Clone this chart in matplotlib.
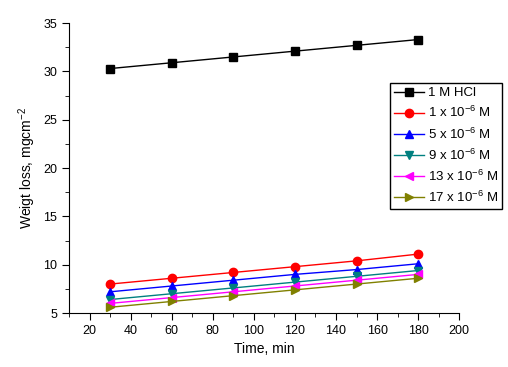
import matplotlib
matplotlib.use("Agg")
import matplotlib.pyplot as plt
from matplotlib.ticker import MultipleLocator

plt.rcParams['font.family'] = ['Liberation Sans', 'DejaVu Sans']
plt.rcParams['mathtext.fontset'] = 'custom'
plt.rcParams['mathtext.rm'] = 'Liberation Sans'
plt.rcParams['mathtext.it'] = 'Liberation Sans'
plt.rcParams['mathtext.default'] = 'regular'

time = [30, 60, 90, 120, 150, 180]
hcl = [30.3, 30.9, 31.5, 32.1, 32.7, 33.3]
c1 = [8.0, 8.6, 9.2, 9.8, 10.4, 11.1]
c5 = [7.2, 7.8, 8.4, 9.0, 9.5, 10.1]
c9 = [6.4, 7.0, 7.6, 8.2, 8.8, 9.4]
c13 = [6.0, 6.6, 7.2, 7.8, 8.4, 9.0]
c17 = [5.6, 6.2, 6.8, 7.4, 8.0, 8.6]

labels = ['1 M HCl', '1 x 10$^{-6}$ M', '5 x 10$^{-6}$ M', '9 x 10$^{-6}$ M',
          '13 x 10$^{-6}$ M', '17 x 10$^{-6}$ M']
series = [hcl, c1, c5, c9, c13, c17]
colors = ['black', 'red', 'blue', '#008080', 'magenta', '#808000']
markers = ['s', 'o', '^', 'v', '<', '>']

fig = plt.figure(figsize=(5.08, 3.67), dpi=100)
ax = fig.add_axes([0.136, 0.147, 0.768, 0.790])
for y, lab, c, m in zip(series, labels, colors, markers):
    ax.plot(time, y, color=c, marker=m, markersize=6, linewidth=1, label=lab)

ax.set_xlim(10, 200)
ax.set_ylim(5, 35)
ax.xaxis.set_major_locator(MultipleLocator(20))
ax.xaxis.set_minor_locator(MultipleLocator(10))
ax.yaxis.set_major_locator(MultipleLocator(5))
ax.yaxis.set_minor_locator(MultipleLocator(2.5))
ax.set_xticks(range(20, 201, 20))
ax.spines['top'].set_visible(False)
ax.spines['right'].set_visible(False)
ax.tick_params(which='major', direction='out', length=5, labelsize=9)
ax.tick_params(which='minor', direction='out', length=3)
ax.set_xlabel('Time, min', fontsize=10)
ax.set_ylabel('Weigt loss, mgcm$^{-2}$', fontsize=10)

leg = ax.legend(loc='upper left', bbox_to_anchor=(0.823, 0.793), fontsize=9.5,
                frameon=True, fancybox=False, edgecolor='black', framealpha=1,
                borderpad=0.3, labelspacing=0.45, handlelength=2.3, handletextpad=0.25,
                borderaxespad=0)
leg.get_frame().set_linewidth(1)

fig.savefig('out.png', dpi=100)
